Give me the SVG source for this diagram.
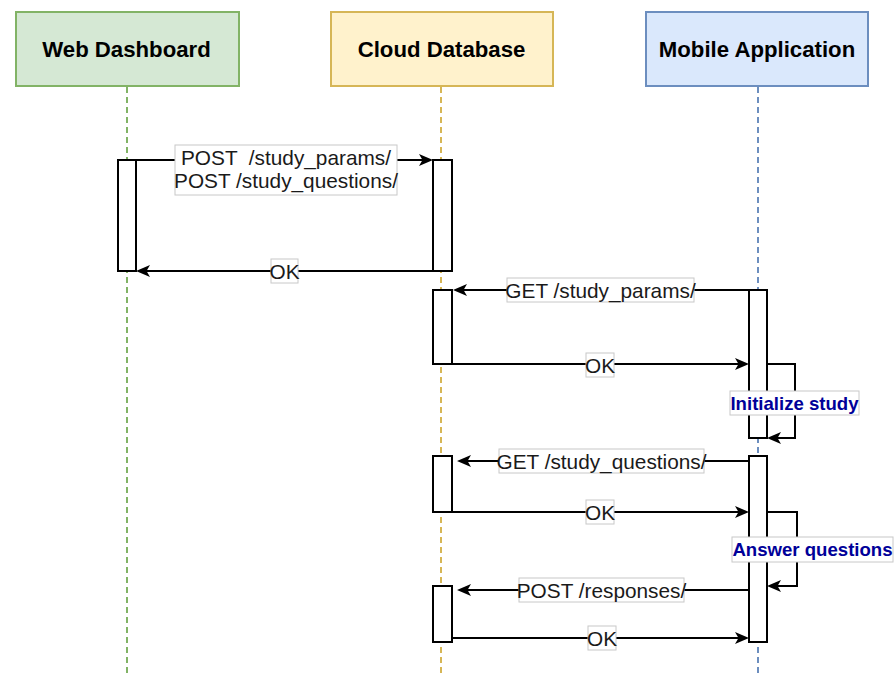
<svg xmlns="http://www.w3.org/2000/svg" width="896" height="675" viewBox="0 0 896 675">
<style>
.hdr{font-family:"Liberation Sans",Arial,sans-serif;font-size:22.2px;font-weight:bold;fill:#000;text-anchor:middle;dominant-baseline:central}
.life{stroke-width:2;stroke-dasharray:6 4;fill:none}
.act{fill:#fff;stroke:#000;stroke-width:2}
.msg{stroke:#000;stroke-width:2;fill:none}
.lblbox{fill:#fff;stroke:#c8c8c8;stroke-width:1}
.lbl{font-family:"Liberation Sans",Arial,sans-serif;font-size:20.8px;fill:#1a1a1a;text-anchor:middle;dominant-baseline:central;white-space:pre}
.note{font-family:"Liberation Sans",Arial,sans-serif;font-size:18.6px;font-weight:bold;fill:#000099;text-anchor:middle;dominant-baseline:central}
</style>
<defs>
<marker id="arr" viewBox="0 0 14 12" markerWidth="14" markerHeight="12" refX="5" refY="6" orient="auto" markerUnits="userSpaceOnUse">
<path d="M0,0 L14,6 L0,12 L3.5,6 Z" fill="#000"/>
</marker>
</defs>
<rect width="896" height="675" fill="#fff"/>

<g id="web-dashboard">
<line class="life" x1="127" y1="87" x2="127" y2="675" stroke="#82b366"/>
<rect x="16" y="12" width="223" height="74" fill="#d5e8d4" stroke="#82b366" stroke-width="2"/>
<text class="hdr" x="126.5" y="49">Web Dashboard</text>
<rect class="act" x="118" y="160" width="18" height="111"/>
</g>

<g id="cloud-database">
<line class="life" x1="441" y1="87" x2="441" y2="675" stroke="#d6b656"/>
<rect x="331" y="12" width="222" height="74" fill="#fff2cc" stroke="#d6b656" stroke-width="2"/>
<text class="hdr" x="441.5" y="49">Cloud Database</text>
<rect class="act" x="433" y="160" width="19" height="111"/>
<rect class="act" x="433" y="290" width="19" height="74"/>
<rect class="act" x="433" y="456" width="19" height="56"/>
<rect class="act" x="433" y="586" width="19" height="56"/>
</g>

<g id="mobile-application">
<line class="life" x1="758" y1="87" x2="758" y2="675" stroke="#6c8ebf"/>
<rect x="646" y="12" width="222" height="74" fill="#dae8fc" stroke="#6c8ebf" stroke-width="2"/>
<text class="hdr" x="757" y="49">Mobile Application</text>
<rect class="act" x="749" y="290" width="18" height="148"/>
<rect class="act" x="749" y="456" width="18" height="186"/>
</g>

<g id="connectors">
<line class="msg" x1="136" y1="160" x2="424" y2="160" marker-end="url(#arr)"/>
<line class="msg" x1="433" y1="271" x2="145" y2="271" marker-end="url(#arr)"/>
<line class="msg" x1="749" y1="290" x2="462" y2="290" marker-end="url(#arr)"/>
<line class="msg" x1="452" y1="364" x2="740" y2="364" marker-end="url(#arr)"/>
<polyline class="msg" points="767,364 795,364 795,438 776,438" marker-end="url(#arr)"/>
<line class="msg" x1="749" y1="461" x2="466" y2="461" marker-end="url(#arr)"/>
<line class="msg" x1="452" y1="512" x2="740" y2="512" marker-end="url(#arr)"/>
<polyline class="msg" points="767,512 797,512 797,586 776,586" marker-end="url(#arr)"/>
<line class="msg" x1="749" y1="590" x2="466" y2="590" marker-end="url(#arr)"/>
<line class="msg" x1="452" y1="638" x2="740" y2="638" marker-end="url(#arr)"/>

<rect class="lblbox" x="175" y="145" width="222" height="50"/>
<text class="lbl" x="286" y="157" xml:space="preserve">POST  /study_params/</text>
<text class="lbl" x="286" y="180">POST /study_questions/</text>

<rect class="lblbox" x="271" y="259" width="27" height="24"/>
<text class="lbl" x="284.5" y="271">OK</text>

<rect class="lblbox" x="507" y="278" width="187" height="24"/>
<text class="lbl" x="600.5" y="290">GET /study_params/</text>

<rect class="lblbox" x="586" y="353" width="28" height="24"/>
<text class="lbl" x="600" y="365">OK</text>

<rect class="lblbox" x="730" y="391" width="129" height="24"/>
<text class="note" x="794.5" y="403">Initialize study</text>

<rect class="lblbox" x="499" y="449" width="205" height="24"/>
<text class="lbl" x="601.5" y="461">GET /study_questions/</text>

<rect class="lblbox" x="586" y="500" width="28" height="24"/>
<text class="lbl" x="600" y="512">OK</text>

<rect class="lblbox" x="732" y="537" width="161" height="25"/>
<text class="note" x="812.5" y="549.5">Answer questions</text>

<rect class="lblbox" x="519" y="578" width="165" height="24"/>
<text class="lbl" x="601.5" y="590">POST /responses/</text>

<rect class="lblbox" x="588" y="626" width="28" height="24"/>
<text class="lbl" x="602" y="638">OK</text>
</g>
</svg>
